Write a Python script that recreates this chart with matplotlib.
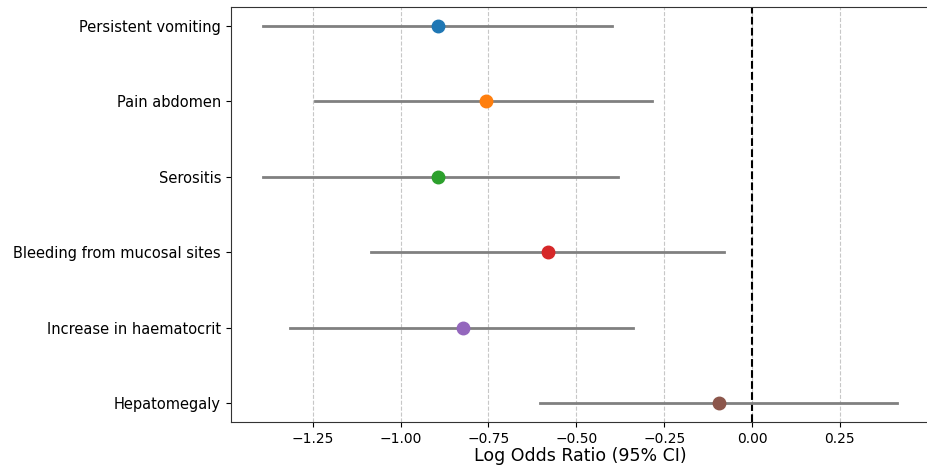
import matplotlib
matplotlib.use("Agg")
import matplotlib.pyplot as plt

features = ["Persistent vomiting", "Pain abdomen", "Serositis",
            "Bleeding from mucosal sites", "Increase in haematocrit", "Hepatomegaly"]
log_or = [-0.895, -0.758, -0.895, -0.581, -0.823, -0.094]
ci_low = [-1.393, -1.245, -1.393, -1.085, -1.316, -0.604]
ci_high = [-0.399, -0.285, -0.382, -0.080, -0.339, 0.413]
colors = ["#1f77b4", "#ff7f0e", "#2ca02c", "#d62728", "#9467bd", "#8c564b"]

fig = plt.figure(figsize=(9.27, 4.68), dpi=100)
ax = fig.add_axes([0.249, 0.0983, 0.753, 0.887])

ys = list(range(len(features)))
for y, m, lo, hi, c in zip(ys, log_or, ci_low, ci_high, colors):
    ax.plot([lo, hi], [y, y], color="gray", lw=2, zorder=2)
    ax.plot([m], [y], "o", color=c, markersize=9, zorder=3)

ax.axvline(0, color="black", linestyle="--", lw=1.5, zorder=1)
ax.set_yticks(ys)
ax.set_yticklabels(features, fontsize=10.5)
ax.set_ylim(len(features) - 0.75, -0.25)
ax.margins(x=0.05)
ax.set_xticks([-1.25, -1.0, -0.75, -0.5, -0.25, 0.0, 0.25])
ax.tick_params(axis="x", labelsize=10)
ax.grid(axis="x", linestyle="--", alpha=0.7)
ax.set_axisbelow(True)
for s in ax.spines.values():
    s.set_color("#333333")
ax.set_xlabel("Log Odds Ratio (95% CI)", fontsize=12.5, labelpad=1)

fig.savefig("out.png", dpi=100)
